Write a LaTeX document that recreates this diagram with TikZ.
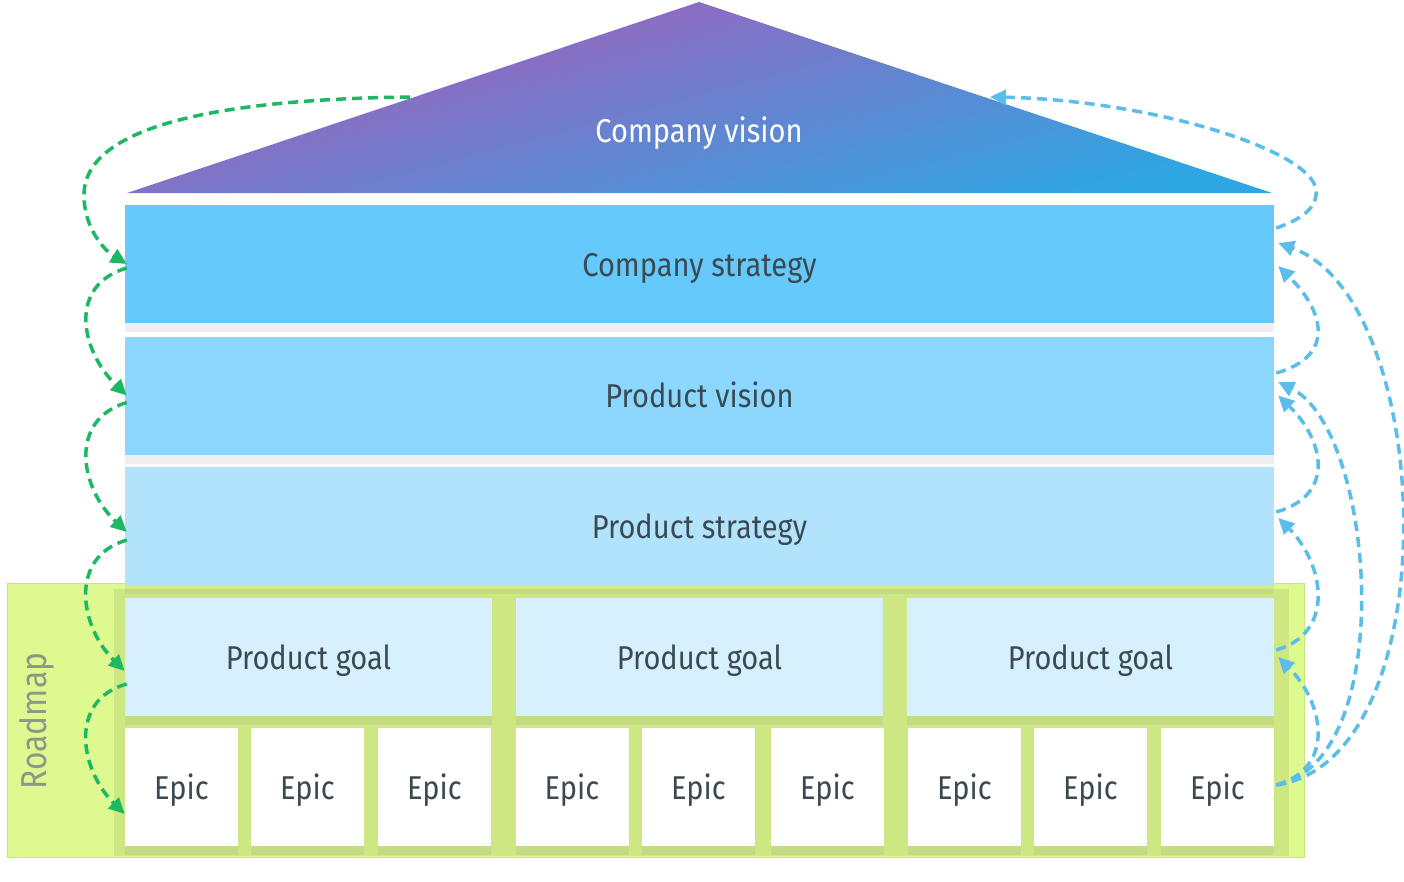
\documentclass[tikz,border=0pt]{standalone}
\usepackage{fontspec}
\setmainfont{Fira Sans}[FakeStretch=0.88]
\usetikzlibrary{arrows.meta,shadows}
\definecolor{txt}{HTML}{3B4A51}
\definecolor{csfill}{HTML}{66C9FC}
\definecolor{pvfill}{HTML}{8BD7FD}
\definecolor{psfill}{HTML}{B1E4FC}
\definecolor{pgfill}{HTML}{D7F0FD}
\definecolor{vtop}{HTML}{AC58B8}
\definecolor{vbot}{HTML}{2EA6E2}
\definecolor{rmfill}{HTML}{DEF98F}
\definecolor{rmdark}{HTML}{CDE883}
\definecolor{rmedge}{HTML}{C6E77A}
\definecolor{rmtext}{HTML}{8C9886}
\definecolor{garrow}{HTML}{1DB863}
\definecolor{barrow}{HTML}{5BBDEA}
\begin{document}
\begin{tikzpicture}[x=1pt,y=-1pt,
  lbl/.style={font=\fontsize{33}{39}\selectfont, text height=30pt, text depth=6pt},
  band/.style={lbl, text=txt, inner sep=0pt, minimum width=1149pt, minimum height=118pt,
    drop shadow={shadow xshift=0pt, shadow yshift=-9pt, opacity=0.12}},
  goal/.style={band, fill=pgfill, minimum width=367pt},
  epic/.style={band, fill=white, minimum width=113pt},
  gline/.style={draw=garrow, line width=3.5pt, dash pattern=on 10pt off 6pt, -{Triangle[length=16pt,width=15pt]}},
  bline/.style={draw=barrow, line width=3.5pt, dash pattern=on 10pt off 6pt, -{Triangle[length=16pt,width=15pt]}}]
\useasboundingbox (0,0) rectangle (1404,881);
\fill[white] (0,0) rectangle (1404,881);
% roadmap
\node[draw=rmedge, line width=1pt, fill=rmfill, minimum width=1297pt, minimum height=274pt, inner sep=0pt] (rm) at (655.5,720) {};
\fill[rmdark] (114,589) rectangle (1289,856);
\node[font=\fontsize{36}{42}\selectfont, text=rmtext, rotate=90, inner sep=0pt] (rml) at (37,721) {Roadmap};
% vision triangle
\shade[top color=vtop, bottom color=vbot, shading angle=15] (699,2) -- (1272,193) -- (127,193) -- cycle;
\node[lbl, text=white] (cv) at (699,130) {Company vision};
\coordinate (cvl) at (410,97);
\coordinate (cvr) at (990,97);
% bands
\node[band, fill=csfill] (cs) at (699.5,264) {Company strategy};
\node[band, fill=pvfill] (pv) at (699.5,395.5) {Product vision};
\node[band, fill=psfill] (ps) at (699.5,526) {Product strategy};
% goals
\node[goal] (pg1) at (308.5,657) {Product goal};
\node[goal] (pg2) at (699.5,657) {Product goal};
\node[goal] (pg3) at (1090.5,657) {Product goal};
% epics
\node[epic] (e1) at (181.5,787) {Epic};
\node[epic] (e2) at (307.5,787) {Epic};
\node[epic] (e3) at (434.5,787) {Epic};
\node[epic] (e4) at (572,787) {Epic};
\node[epic] (e5) at (698.5,787) {Epic};
\node[epic] (e6) at (827.5,787) {Epic};
\node[epic] (e7) at (964.5,787) {Epic};
\node[epic] (e8) at (1090.5,787) {Epic};
\node[epic] (e9) at (1217.5,787) {Epic};
% green arrows (left)
\draw[gline] (cvl) .. controls (170,100) and (84,140) .. (84,195) .. controls (84,228) and (104,250) .. ([xshift=2pt]cs.west);
\draw[gline] ([xshift=2pt,yshift=-4pt]cs.west) .. controls (68,285) and (80,350) .. ([xshift=2pt]pv.west);
\draw[gline] ([xshift=2pt,yshift=-7pt]pv.west) .. controls (68,420) and (80,488) .. ([xshift=2pt,yshift=-6pt]ps.west);
\draw[gline] ([xshift=2pt,yshift=-14pt]ps.west) .. controls (68,557) and (80,627) .. ([xshift=0pt,yshift=-14pt]pg1.west);
\draw[gline] ([xshift=2pt,yshift=-27pt]pg1.west) .. controls (68,700) and (80,770) .. ([xshift=0pt,yshift=-27pt]e1.west);
% blue arrows (right)
\draw[bline] ([xshift=2pt,yshift=36pt]cs.east) .. controls (1300,220) and (1318,208) .. (1316,190) .. controls (1312,150) and (1150,100) .. (cvr);
\draw[bline] ([xshift=2pt,yshift=22.5pt]pv.east) .. controls (1336,356) and (1324,311) .. ([xshift=4pt,yshift=-2pt]cs.east);
\draw[bline] ([xshift=2pt,yshift=14pt]ps.east) .. controls (1336,495) and (1324,440) .. ([xshift=4pt]pv.east);
\draw[bline] ([xshift=2pt,yshift=7pt]pg3.east) .. controls (1336,633) and (1324,563) .. ([xshift=4pt,yshift=8pt]ps.east);
\draw[bline] ([xshift=2pt,yshift=2pt]e9.east) .. controls (1336,768) and (1324,703) .. ([xshift=4pt]pg3.east);
\draw[bline] ([xshift=2pt,yshift=2pt]e9.east) .. controls (1400,760) and (1375,430) .. ([xshift=4pt,yshift=13.5pt]pv.east);
\draw[bline] ([xshift=2pt,yshift=2pt]e9.east) .. controls (1450,760) and (1437,300) .. ([xshift=4pt,yshift=21pt]cs.east);
\end{tikzpicture}
\end{document}
